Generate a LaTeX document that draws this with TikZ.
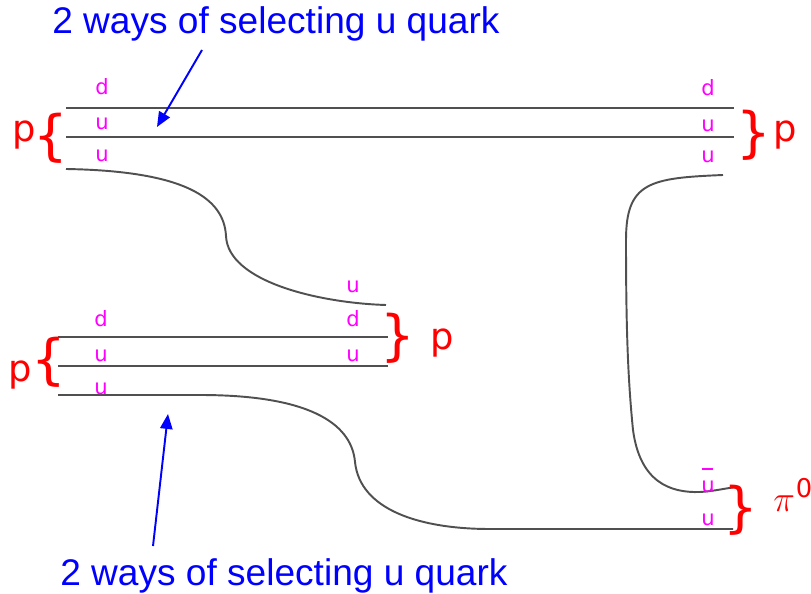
\documentclass[tikz,border=0pt]{standalone}
\usepackage{fontspec}
\setmainfont{Liberation Sans}
\newfontfamily\quarkfont{DejaVu Sans}
\usetikzlibrary{
    arrows.meta,
    positioning
}
\definecolor{ink}{RGB}{80,80,80}
\definecolor{quarkcol}{RGB}{255,0,255}
\definecolor{hadroncol}{RGB}{255,0,0}
\definecolor{notecol}{RGB}{0,0,255}
\newcommand{\antiu}{\makebox[0pt][l]{\hspace{0.2pt}\rule[12.5pt]{6.6pt}{1.1pt}}u}
\tikzset{
    line cap=round,
    line join=round,
    quarkline/.style={
        draw=ink,
        line width=1.1pt
    },
    quark/.style={
        font=\quarkfont\fontsize{12}{14}\selectfont,
        text=quarkcol,
        inner sep=0pt,
        anchor=base
    },
    hadron/.style={
        font=\quarkfont\fontsize{21}{24}\selectfont,
        text=hadroncol,
        inner sep=0pt,
        anchor=base
    },
    bracket/.style={
        font=\quarkfont\fontsize{31}{34}\selectfont,
        text=hadroncol,
        inner sep=0pt
    },
    note/.style={
        font=\fontsize{21.1}{24}\selectfont,
        text=notecol,
        inner sep=0pt,
        anchor=base west
    },
    pointer/.style={
        -{Triangle[length=8.5pt,width=7pt]},
        draw=notecol,
        line width=1.1pt
    }
}

\begin{document}
\begin{tikzpicture}[x=0.02cm, y=-0.02cm]
\useasboundingbox (0,0) rectangle (811,594);

% Incoming proton (top)
\coordinate (ta1) at (66,108);  \coordinate (tb1) at (734,108);
\coordinate (ta2) at (66,137);  \coordinate (tb2) at (734,137);
\coordinate (ta3) at (66,169);
\coordinate (tm3) at (226,236);
\coordinate (tb3) at (386,305);
\draw[quarkline] (ta1) -- (tb1);
\draw[quarkline] (ta2) -- (tb2);
\draw[quarkline] (ta3) .. controls (185,171) and (224,198) .. (tm3)
                       .. controls (228,282) and (320,303) .. (tb3);

% Target proton (middle)
\coordinate (ma1) at (58,337);  \coordinate (mb1) at (388,337);
\coordinate (ma2) at (58,366);  \coordinate (mb2) at (388,366);
\coordinate (ma3) at (58,395);  \coordinate (mk3) at (200,395);
\coordinate (mm3) at (355,462); \coordinate (mn3) at (490,529);
\coordinate (mb3) at (733,529);
\draw[quarkline] (ma1) -- (mb1);
\draw[quarkline] (ma2) -- (mb2);
\draw[quarkline] (ma3) -- (mk3) .. controls (318,395) and (352,428) .. (mm3)
                       .. controls (360,510) and (420,529) .. (mn3) -- (mb3);

% u quark to the pion
\coordinate (ra) at (723,175);
\coordinate (rm1) at (626,240);
\coordinate (rm2) at (633,430);
\coordinate (rb) at (737,487);
\draw[quarkline] (ra) .. controls (650,178) and (626,182) .. (rm1)
                 .. controls (626,330) and (628,380) .. (rm2)
                 .. controls (640,482) and (670,493) .. (700,492)
                 .. controls (716,491) and (726,488) .. (rb);

% Quark labels
\foreach \y/\q in {95/d,130/u,162/u} {
    \node[quark] (qtl\y) at (102,\y) {\q};
}
\foreach \y/\q in {96/d,132/u,163/u} {
    \node[quark] (qtr\y) at (708,\y) {\q};
}
\foreach \y/\q in {327/d,361/u,395/u} {
    \node[quark] (qml\y) at (101,\y) {\q};
}
\foreach \y/\q in {293/u,327/d,361/u} {
    \node[quark] (qmr\y) at (353,\y) {\q};
}
\node[quark] (qbar) at (708,492) {\antiu};
\node[quark] (qpi) at (708,525) {u};

% Hadrons
\node[bracket] (brtl) at (51,138) {\{};
\node[hadron] (ptl) at (24,142) {p};
\node[bracket] (brtr) at (754,135) {\}};
\node[hadron] (ptr) at (785,142) {p};
\node[bracket] (brml) at (49,362) {\{};
\node[hadron] (pml) at (20,381) {p};
\node[bracket] (brmr) at (398,338) {\}};
\node[hadron] (pmr) at (442,350) {p};
\node[bracket] (brpi) at (741,510) {\}};
\node[hadron, anchor=base west] (pion) at (773,511) {$\pi$\kern0.5pt\textsuperscript{0}};

% Notes
\node[note] (notetop) at (52,34) {2 ways of selecting u quark};
\node[note] (notebot) at (60,585) {2 ways of selecting u quark};
\coordinate (tipa) at (157,127);
\coordinate (taila) at (202,50);
\coordinate (tipb) at (168,414);
\coordinate (tailb) at (153,546);
\draw[pointer] (taila) -- (tipa);
\draw[pointer] (tailb) -- (tipb);
\end{tikzpicture}
\end{document}
